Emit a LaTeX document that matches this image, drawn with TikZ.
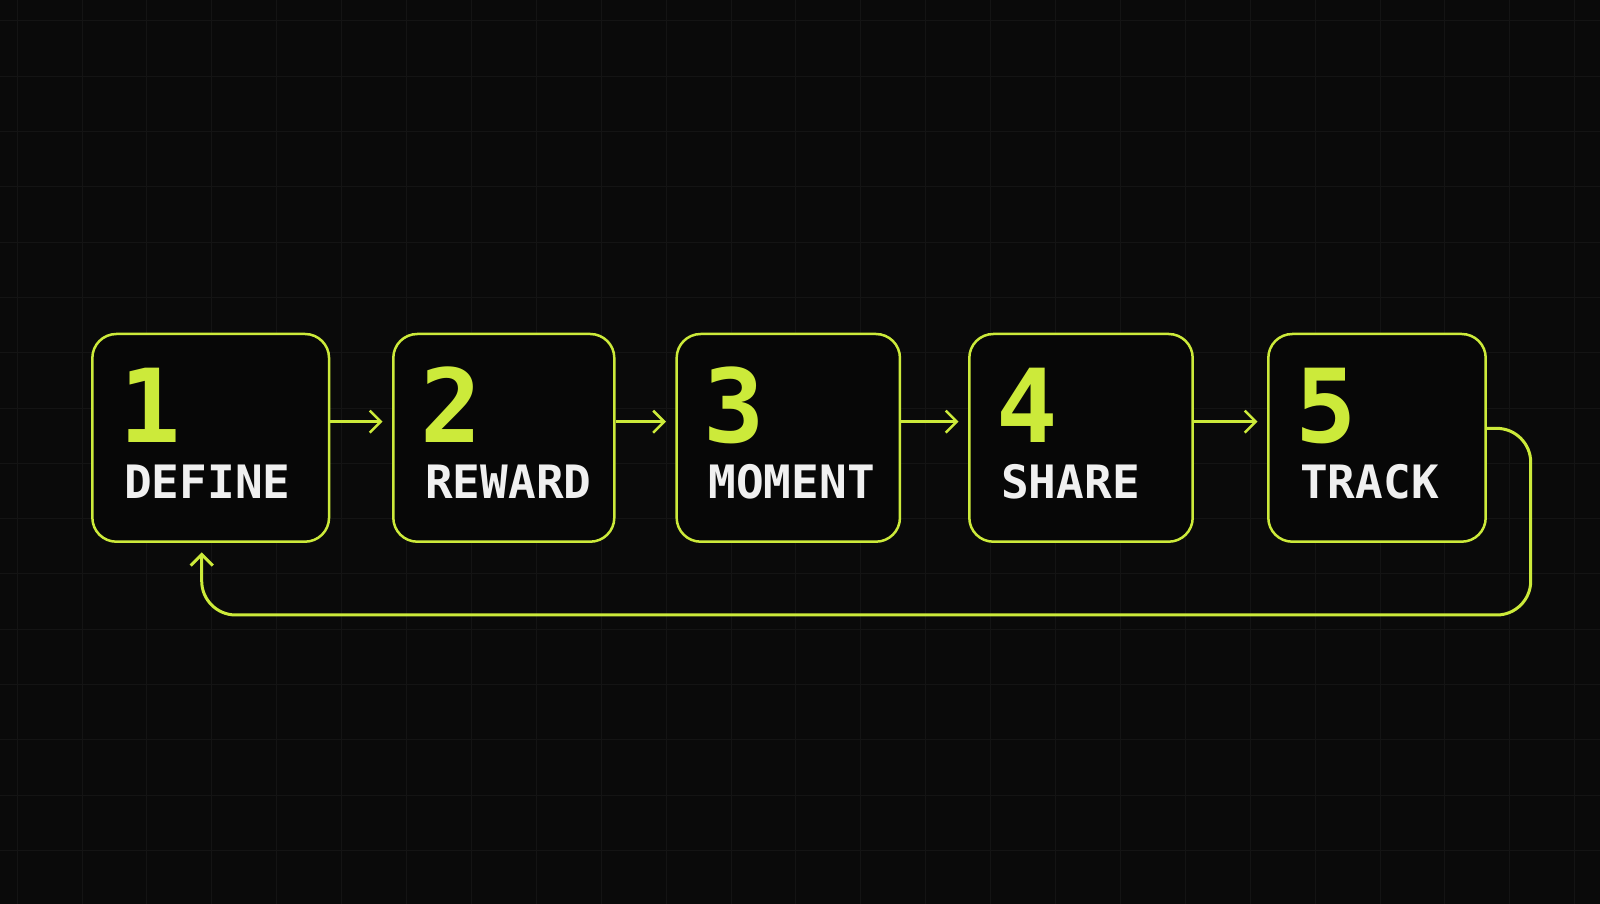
\documentclass[tikz,border=0pt]{standalone}
\usepackage{fontspec}
\newfontfamily\boxfont{DejaVu Sans Mono}
\usetikzlibrary{arrows.meta}
\definecolor{lime}{RGB}{204,234,58}
\definecolor{bgc}{RGB}{10,10,10}
\definecolor{gridc}{RGB}{20,20,20}
\definecolor{boxc}{RGB}{7,7,7}
\definecolor{chalk}{RGB}{240,240,240}

\begin{document}
\begin{tikzpicture}
[x=1pt,y=1pt,
 box/.style={draw=lime,fill=boxc,line width=2.5pt,rounded corners=24pt,minimum width=#1,minimum height=207.7pt,inner sep=0pt},
 num/.style={text=lime,font=\boxfont\bfseries\fontsize{102}{102}\selectfont,anchor=base west,inner sep=0pt},
 lbl/.style={text=chalk,font=\boxfont\bfseries\fontsize{46}{46}\selectfont,anchor=base west,inner sep=0pt},
 be/.style={draw=lime,line width=2.5pt,shorten >=9.5pt,arrows={-Straight Barb[length=11pt,width=22pt]}}]
\useasboundingbox (0,0) rectangle (1600,904);
\fill[bgc] (0,0) rectangle (1600,904);
\foreach \k in {0,...,24}
  \draw[gridc,line width=1pt] ({17.1+64.9*\k},0) -- ++(0,904);
\foreach \k in {0,...,15}
  \draw[gridc,line width=1pt] (0,{883-55.3*\k}) -- ++(1600,0);

\foreach \n/\x/\w/\t in {1/210.7/236.7/DEFINE,2/503.8/221/REWARD,3/788.3/223.3/MOMENT,4/1081/223.4/SHARE,5/1377/217.4/TRACK}{
  \node[box=\w pt] (b\n) at (\x,466.15) {};
  \node[num] (n\n) at ([shift={(28,-110)}]b\n.north west) {\n};
  \node[lbl] (l\n) at ([shift={(33,-166)}]b\n.north west) {\t};
}

\foreach \a/\b in {1/2,2/3,3/4,4/5}
  \draw[be] ([yshift=16.2pt]b\a.east) -- ([yshift=16.2pt]b\b.west);

\coordinate (turn) at (1530.7,289);
\draw[be,line width=3pt,rounded corners=34pt] ([yshift=9.5pt]b5.east) -| (turn) -| ([xshift=-9pt]b1.south);

\end{tikzpicture}
\end{document}
